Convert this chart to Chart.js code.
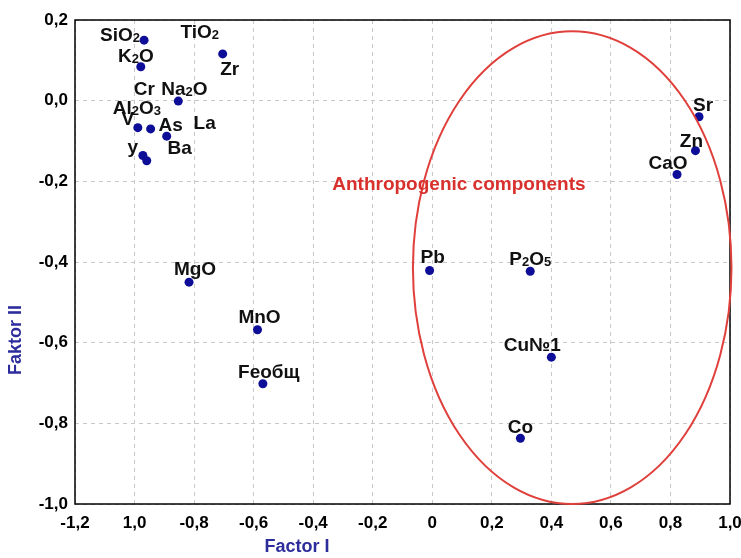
<!DOCTYPE html>
<html>
<head>
<meta charset="utf-8">
<script src="https://cdn.jsdelivr.net/npm/chart.js@4"></script>
<style>
  body { margin: 0; background: #fff; }
</style>
</head>
<body>
<canvas id="chart" width="741" height="558"></canvas>
<script>
// Loadings (Factor I, Faktor II); "_d" marks a subscript digit
const pointNames = ['SiO_2', 'K_2O', 'Zr', 'Na_2O', 'V', 'As', 'Ba', 'y', '', 'MgO', 'MnO', 'Feобщ',
                    'Pb', 'P_2O_5', 'Cu№1', 'Co', 'Sr', 'Zn', 'CaO'];
const factorI = [-0.968, -0.979, -0.704, -0.853, -0.989, -0.946, -0.892, -0.972, -0.959, -0.817, -0.587, -0.569,
                 -0.009, 0.329, 0.400, 0.296, 0.896, 0.884, 0.822];
const factorII = [0.150, 0.084, 0.116, -0.001, -0.067, -0.070, -0.088, -0.136, -0.149, -0.450, -0.568, -0.702,
                  -0.421, -0.423, -0.636, -0.837, -0.040, -0.124, -0.183];

// names whose dots are hidden under another point (index of that point)
const hiddenNames = ['TiO_2', 'Cr', 'Al_2O_3', 'La'];
const hiddenAnchor = [2, 3, 4, 5];

const xTickLabels = ['-1,2', '1,0', '-0,8', '-0,6', '-0,4', '-0,2', '0', '0,2', '0,4', '0,6', '0,8', '1,0'];
const yTickLabels = ['-1,0', '-0,8', '-0,6', '-0,4', '-0,2', '0,0', '0,2'];

const groupName = 'Anthropogenic components';
const groupCenter = [0.47, -0.414];
const groupRadius = [0.535, 0.586];
const groupNameAt = [-0.336, -0.208];

// label placement, pixels from the dot (label centre)
const labelOffsets = [[-24, -6], [-5, -12], [7, 14], [6, -13], [-10, -10], [20, -5], [13, 11], [-10, -9], null,
                      [6, -14], [2, -14], [6, -13], [3, -14], [0, -13], [-19, -13], [0, -12], [4, -13], [-4, -11], [-9, -12]];
const hiddenOffsets = [[-23, -23], [-34, -13], [-1, -21], [54, -7]];

const FONT = '"Liberation Sans", Arial, sans-serif';
const LABEL_SIZE = 19;

function drawRich(ctx, text, cx, cy, size) {
    const parts = text.split(/_(\d)/);
    const big = `bold ${size}px ${FONT}`;
    const small = `bold ${Math.round(size * 0.7)}px ${FONT}`;
    let width = 0;
    parts.forEach((p, i) => {
        ctx.font = i % 2 ? small : big;
        width += ctx.measureText(p).width;
    });
    let x = cx - width / 2;
    const base = cy + size * 0.36;
    ctx.textAlign = 'left';
    ctx.textBaseline = 'alphabetic';
    parts.forEach((p, i) => {
        ctx.font = i % 2 ? small : big;
        ctx.fillText(p, x, i % 2 ? base + 1 : base);
        x += ctx.measureText(p).width;
    });
}

const overlay = {
    id: 'overlay',
    afterDatasetsDraw(chart) {
        const { ctx, chartArea: a, scales: { x, y } } = chart;
        ctx.save();

        // frame
        ctx.strokeStyle = '#000';
        ctx.lineWidth = 1.5;
        ctx.strokeRect(a.left, a.top, a.right - a.left, a.bottom - a.top);

        // group ellipse
        const cx = x.getPixelForValue(groupCenter[0]);
        const cy = y.getPixelForValue(groupCenter[1]);
        const rx = x.getPixelForValue(groupCenter[0] + groupRadius[0]) - cx;
        const ry = cy - y.getPixelForValue(groupCenter[1] + groupRadius[1]);
        ctx.beginPath();
        ctx.ellipse(cx, cy, rx, ry, 0, 0, Math.PI * 2);
        ctx.strokeStyle = '#e0403c';
        ctx.lineWidth = 2;
        ctx.stroke();

        ctx.fillStyle = '#d8302c';
        ctx.font = `bold 19px ${FONT}`;
        ctx.textAlign = 'left';
        ctx.textBaseline = 'middle';
        ctx.fillText(groupName, x.getPixelForValue(groupNameAt[0]), y.getPixelForValue(groupNameAt[1]));

        // point labels
        ctx.fillStyle = '#111';
        pointNames.forEach((name, i) => {
            if (!name) return;
            const px = x.getPixelForValue(factorI[i]);
            const py = y.getPixelForValue(factorII[i]);
            drawRich(ctx, name, px + labelOffsets[i][0], py + labelOffsets[i][1], LABEL_SIZE);
        });
        hiddenNames.forEach((name, i) => {
            const k = hiddenAnchor[i];
            const px = x.getPixelForValue(factorI[k]);
            const py = y.getPixelForValue(factorII[k]);
            drawRich(ctx, name, px + hiddenOffsets[i][0], py + hiddenOffsets[i][1], LABEL_SIZE);
        });

        // axis titles
        ctx.fillStyle = '#2c2c9c';
        ctx.font = `bold 18px ${FONT}`;
        ctx.textAlign = 'center';
        ctx.textBaseline = 'middle';
        ctx.fillText('Factor I', 297, 547);
        ctx.translate(16, 340);
        ctx.rotate(-Math.PI / 2);
        ctx.fillText('Faktor II', 0, 0);
        ctx.restore();
    }
};

new Chart(document.getElementById('chart'), {
    type: 'scatter',
    data: {
        datasets: [{
            data: factorI.map((v, i) => ({ x: v, y: factorII[i] })),
            backgroundColor: '#0d0d98',
            borderWidth: 0,
            pointRadius: 4.5,
            pointHoverRadius: 4.5
        }]
    },
    options: {
        responsive: false,
        animation: false,
        devicePixelRatio: 1,
        layout: { padding: { top: 20, right: 11, left: 0, bottom: 0 } },
        plugins: { legend: { display: false }, tooltip: { enabled: false } },
        scales: {
            x: {
                min: -1.2, max: 1.0,
                afterFit: s => { s.height = 54; s.paddingLeft = 0; s.paddingRight = 0; },
                grid: { color: '#c8c8c8', drawTicks: false },
                border: { display: false, dash: [4, 4] },
                ticks: {
                    stepSize: 0.2, autoSkip: false, maxRotation: 0, padding: 9,
                    color: '#000', font: { family: FONT, size: 17, weight: 'bold' },
                    callback: (v, i) => xTickLabels[i]
                }
            },
            y: {
                min: -1.0, max: 0.2,
                afterFit: s => { s.width = 75; s.paddingTop = 0; s.paddingBottom = 0; },
                grid: { color: '#c8c8c8', drawTicks: false },
                border: { display: false, dash: [4, 4] },
                ticks: {
                    stepSize: 0.2, padding: 7,
                    color: '#000', font: { family: FONT, size: 17, weight: 'bold' },
                    callback: (v, i) => yTickLabels[i]
                }
            }
        }
    },
    plugins: [overlay]
});
</script>
</body>
</html>
